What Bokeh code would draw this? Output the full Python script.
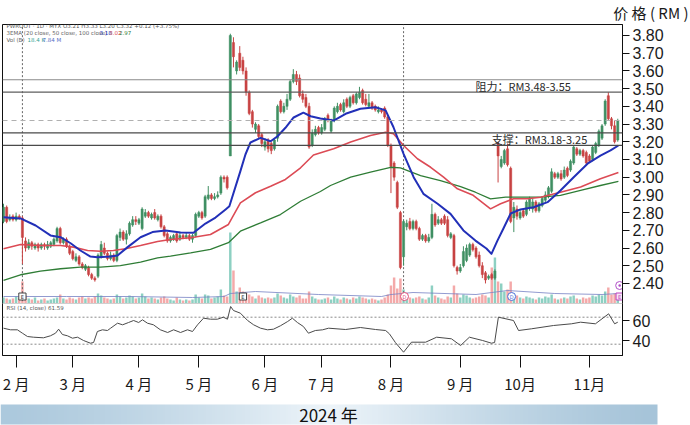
import numpy as np
from bokeh.plotting import figure
from bokeh.models import Range1d, LinearAxis, FixedTicker, Label, ColumnDataSource, Span, Title
from bokeh.layouts import column
from bokeh.core.properties import value
from bokeh.embed import file_html
from bokeh.resources import INLINE

# ---------------- data ----------------
month_idx = [4, 22, 43, 62, 83, 101, 123, 145, 164, 186]
month_labels = ["2 月", "3 月", "4 月", "5 月", "6 月", "7 月", "8 月", "9 月", "10月", "11月"]
price_ticks = [2.40, 2.50, 2.60, 2.70, 2.80, 2.90, 3.00, 3.10, 3.20, 3.30, 3.40, 3.50, 3.60, 3.70, 3.80]
price_labels = ["2.40", "2.50", "2.60", "2.70", "2.80", "2.90", "3.00", "3.10", "3.20", "3.30",
                "3.40", "3.50", "3.60", "3.70", "3.80"]
rsi_ticks = [60, 40]
rsi_labels = ["60", "40"]
resistance = [3.48, 3.55]
support = [3.18, 3.25]
last_price = 3.32

opens = [2.75, 2.83, 2.76, 2.78, 2.76, 2.78, 2.77, 2.64, 2.60, 2.63, 2.60, 2.62, 2.60, 2.62, 2.60, 2.61, 2.62, 2.64, 2.71, 2.63,
         2.65, 2.61, 2.58, 2.53, 2.55, 2.51, 2.48, 2.49, 2.45, 2.43, 2.44, 2.55, 2.60, 2.57, 2.54, 2.56, 2.53, 2.66, 2.69, 2.65,
         2.68, 2.73, 2.76, 2.74, 2.71, 2.78, 2.80, 2.77, 2.80, 2.76, 2.78, 2.72, 2.68, 2.64, 2.65, 2.68, 2.65, 2.67, 2.66, 2.67,
         2.65, 2.67, 2.78, 2.80, 2.78, 2.88, 2.90, 2.88, 2.89, 2.91, 3.00, 3.00, 3.12, 3.76, 3.60, 3.70, 3.66, 3.60, 3.48, 3.37,
         3.27, 3.29, 3.24, 3.17, 3.21, 3.19, 3.16, 3.22, 3.43, 3.37, 3.40, 3.44, 3.54, 3.58, 3.56, 3.47, 3.45, 3.40, 3.18, 3.24,
         3.28, 3.25, 3.27, 3.35, 3.26, 3.32, 3.37, 3.41, 3.37, 3.44, 3.40, 3.46, 3.42, 3.45, 3.49, 3.44, 3.40, 3.42, 3.40, 3.37,
         3.38, 3.39, 3.34, 3.18, 3.08, 2.97, 2.80, 2.55, 2.72, 2.75, 2.71, 2.75, 2.71, 2.65, 2.67, 2.64, 2.66, 2.79, 2.74, 2.76,
         2.78, 2.76, 2.66, 2.67, 2.49, 2.47, 2.50, 2.53, 2.56, 2.62, 2.60, 2.56, 2.50, 2.46, 2.43, 2.45, 2.43, 3.19, 3.06, 3.08,
         3.16, 3.05, 2.77, 2.82, 2.77, 2.81, 2.79, 2.83, 2.82, 2.86, 2.81, 2.84, 2.87, 2.89, 2.92, 3.02, 3.00, 3.02, 3.00, 3.05,
         3.04, 3.08, 3.16, 3.13, 3.15, 3.14, 3.12, 3.10, 3.14, 3.18, 3.22, 3.30, 3.46, 3.33, 3.29, 3.21]
highs = [2.85, 2.84, 2.79, 2.79, 2.80, 2.79, 2.78, 2.66, 2.65, 2.64, 2.63, 2.63, 2.63, 2.63, 2.64, 2.64, 2.66, 2.72, 2.72, 2.66,
         2.66, 2.62, 2.59, 2.57, 2.56, 2.52, 2.51, 2.50, 2.46, 2.44, 2.57, 2.64, 2.63, 2.58, 2.58, 2.57, 2.68, 2.71, 2.70, 2.70,
         2.75, 2.78, 2.78, 2.77, 2.83, 2.82, 2.81, 2.80, 2.82, 2.79, 2.79, 2.73, 2.69, 2.67, 2.68, 2.69, 2.69, 2.68, 2.69, 2.68,
         2.68, 2.80, 2.81, 2.81, 2.90, 2.95, 2.91, 2.91, 2.92, 3.01, 3.01, 3.01, 3.81, 3.79, 3.66, 3.74, 3.68, 3.62, 3.49, 3.38,
         3.31, 3.30, 3.25, 3.22, 3.22, 3.20, 3.22, 3.41, 3.44, 3.42, 3.47, 3.55, 3.61, 3.60, 3.58, 3.49, 3.47, 3.42, 3.27, 3.29,
         3.29, 3.30, 3.34, 3.36, 3.33, 3.40, 3.42, 3.42, 3.44, 3.45, 3.46, 3.47, 3.48, 3.51, 3.50, 3.47, 3.47, 3.43, 3.41, 3.40,
         3.39, 3.40, 3.35, 3.19, 3.09, 2.98, 2.81, 2.76, 2.76, 2.77, 2.76, 2.76, 2.72, 2.68, 2.68, 2.68, 2.85, 2.80, 2.78, 2.77,
         2.79, 2.78, 2.69, 2.68, 2.50, 2.51, 2.61, 2.62, 2.63, 2.63, 2.61, 2.58, 2.52, 2.47, 2.45, 2.46, 2.48, 3.20, 3.12, 3.16,
         3.19, 3.06, 2.86, 2.84, 2.82, 2.82, 2.87, 2.89, 2.88, 2.87, 2.86, 2.89, 2.92, 2.95, 3.05, 3.03, 3.03, 3.04, 3.06, 3.06,
         3.10, 3.18, 3.17, 3.16, 3.16, 3.15, 3.13, 3.18, 3.20, 3.27, 3.30, 3.44, 3.48, 3.34, 3.32, 3.33]
lows = [2.74, 2.74, 2.75, 2.75, 2.75, 2.76, 2.51, 2.58, 2.59, 2.59, 2.59, 2.58, 2.59, 2.59, 2.59, 2.60, 2.61, 2.63, 2.62, 2.62,
        2.60, 2.56, 2.53, 2.52, 2.50, 2.48, 2.47, 2.44, 2.42, 2.41, 2.43, 2.54, 2.56, 2.53, 2.53, 2.52, 2.52, 2.64, 2.64, 2.62,
        2.67, 2.72, 2.73, 2.73, 2.70, 2.77, 2.77, 2.76, 2.76, 2.75, 2.71, 2.66, 2.63, 2.63, 2.64, 2.63, 2.64, 2.65, 2.65, 2.64,
        2.63, 2.66, 2.77, 2.76, 2.77, 2.87, 2.87, 2.87, 2.88, 2.90, 2.97, 2.93, 3.12, 3.62, 3.58, 3.60, 3.58, 3.46, 3.35, 3.28,
        3.25, 3.22, 3.17, 3.15, 3.14, 3.13, 3.15, 3.20, 3.36, 3.36, 3.38, 3.43, 3.53, 3.52, 3.45, 3.42, 3.39, 3.16, 3.17, 3.23,
        3.24, 3.24, 3.26, 3.31, 3.25, 3.31, 3.36, 3.37, 3.36, 3.39, 3.39, 3.41, 3.41, 3.44, 3.41, 3.40, 3.39, 3.38, 3.37, 3.36,
        3.36, 3.33, 3.17, 2.91, 2.98, 2.82, 2.48, 2.50, 2.70, 2.70, 2.70, 2.70, 2.64, 2.64, 2.63, 2.63, 2.65, 2.72, 2.73, 2.73,
        2.73, 2.66, 2.65, 2.49, 2.45, 2.46, 2.49, 2.52, 2.55, 2.58, 2.54, 2.49, 2.43, 2.40, 2.42, 2.42, 2.42, 2.97, 3.05, 3.07,
        3.06, 2.74, 2.69, 2.76, 2.76, 2.77, 2.78, 2.81, 2.80, 2.80, 2.80, 2.83, 2.86, 2.88, 2.91, 2.99, 2.99, 2.98, 2.99, 3.00,
        3.03, 3.07, 3.12, 3.12, 3.11, 3.07, 3.08, 3.09, 3.13, 3.17, 3.21, 3.29, 3.32, 3.27, 3.19, 3.20]
closes = [2.83, 2.75, 2.77, 2.76, 2.78, 2.77, 2.66, 2.60, 2.63, 2.61, 2.62, 2.60, 2.62, 2.61, 2.62, 2.63, 2.65, 2.71, 2.63, 2.65,
          2.61, 2.57, 2.54, 2.55, 2.51, 2.49, 2.50, 2.45, 2.43, 2.42, 2.56, 2.62, 2.57, 2.54, 2.56, 2.53, 2.67, 2.69, 2.65, 2.68,
          2.74, 2.76, 2.75, 2.76, 2.82, 2.80, 2.78, 2.79, 2.77, 2.78, 2.72, 2.67, 2.64, 2.66, 2.67, 2.64, 2.67, 2.66, 2.67, 2.65,
          2.67, 2.79, 2.80, 2.77, 2.89, 2.90, 2.88, 2.89, 2.90, 3.00, 2.99, 2.94, 3.80, 3.68, 3.65, 3.62, 3.60, 3.48, 3.36, 3.30,
          3.30, 3.23, 3.19, 3.20, 3.16, 3.15, 3.21, 3.40, 3.37, 3.40, 3.44, 3.54, 3.58, 3.54, 3.46, 3.44, 3.40, 3.17, 3.25, 3.27,
          3.25, 3.28, 3.33, 3.32, 3.32, 3.39, 3.40, 3.38, 3.42, 3.40, 3.45, 3.42, 3.47, 3.48, 3.42, 3.41, 3.42, 3.39, 3.38, 3.38,
          3.37, 3.34, 3.18, 3.06, 3.00, 2.83, 2.49, 2.75, 2.74, 2.71, 2.75, 2.71, 2.65, 2.67, 2.64, 2.66, 2.79, 2.73, 2.76, 2.74,
          2.74, 2.67, 2.68, 2.50, 2.47, 2.49, 2.58, 2.60, 2.62, 2.59, 2.55, 2.50, 2.45, 2.42, 2.44, 2.43, 2.47, 3.12, 3.10, 3.15,
          3.07, 2.75, 2.83, 2.78, 2.80, 2.78, 2.86, 2.88, 2.86, 2.81, 2.85, 2.88, 2.90, 2.94, 3.03, 3.00, 3.02, 2.99, 3.04, 3.01,
          3.09, 3.17, 3.13, 3.15, 3.12, 3.08, 3.09, 3.17, 3.19, 3.26, 3.29, 3.43, 3.33, 3.29, 3.20, 3.32]
volumes = [6, 5, 4, 5, 7, 6, 22,
           8, 5, 4, 6, 3, 4, 5, 3, 4, 5, 6, 9, 5, 4, 6,
           5, 4, 6, 7, 5, 6, 5, 7, 10, 8, 6, 5, 4, 5,
           9, 7, 5, 6, 8, 7, 5, 6, 10, 7, 5, 6, 5, 4,
           6, 7, 5, 4, 3, 6, 4, 3, 4, 3, 4, 9,
           6, 5, 9, 8, 5, 6, 7, 14, 8, 7,
           71, 33, 12, 16, 12,
           11, 9, 7, 5, 8, 6,
           5, 6, 5, 6, 10, 8, 6, 5, 9, 7, 6, 8, 5, 5, 12, 7, 5, 4,
           4, 5, 6, 4, 7, 5, 4, 6, 5, 4, 6, 5, 7, 6, 5, 4, 5, 4, 3, 4, 6, 9,
           18, 26, 15, 25,
           14, 8, 6, 5, 6, 7, 5, 4, 6,
           18,
           8, 6, 5, 4, 7, 6,
           18, 10,
           6, 9, 8, 6, 5, 6, 7, 9, 8, 6,
           36, 46, 22,
           20, 12, 14, 22, 10, 8,
           6, 5, 7, 6, 5, 4, 6, 5, 7, 6, 9, 5, 4, 5, 6, 5, 7, 8, 5, 4, 6, 5,
           6, 8, 7, 9, 8, 12, 16, 9, 10, 8]

ema20_x = [0, 5.4, 10.2, 14.9, 18.1, 21.3, 24.4, 27.6, 29.8, 34, 36.2, 39.4, 43.5, 47.3, 51.4, 56.2, 60.3, 64.1, 67.3, 70.5,
           71.7, 75.2, 76.8, 78.4, 81.6, 84.8, 87, 89.5, 92.1, 95.2, 97.5, 100.6, 104.8, 108.6, 113.3, 118.1, 121.3, 123.8,
           127, 130.2, 133.3, 137.8, 141.9, 146, 149.8, 153.3, 154.9, 156.8, 158.7, 161, 164.1, 168.3, 172.7, 176.8, 181,
           185.4, 189.5, 192.7, 195.2]
ema20_v = [2.774, 2.767, 2.727, 2.671, 2.661, 2.627, 2.586, 2.552, 2.548, 2.552, 2.558, 2.605, 2.661, 2.69, 2.699, 2.688,
           2.686, 2.738, 2.772, 2.818, 2.836, 3.034, 3.128, 3.196, 3.222, 3.203, 3.231, 3.279, 3.337, 3.364, 3.344, 3.331,
           3.320, 3.358, 3.386, 3.395, 3.377, 3.282, 3.132, 3.000, 2.906, 2.850, 2.793, 2.699, 2.642, 2.597, 2.567, 2.642,
           2.710, 2.795, 2.818, 2.830, 2.859, 2.925, 3.000, 3.076, 3.122, 3.151, 3.179]
ema50_x = [0, 5.4, 11.7, 18.1, 22.2, 26.7, 30.8, 34.9, 38.7, 43.5, 48.9, 53, 59.4, 65.7, 71.4, 75.2, 80, 84.8, 89.5, 94.3,
           98.4, 104.8, 110.2, 116.5, 121.3, 123.8, 127, 131.4, 135.6, 139.7, 144.1, 148.9, 154.6, 157.8, 161.9, 166.3,
           170.5, 176.8, 183.2, 189.5, 195.2]
ema50_v = [2.596, 2.620, 2.614, 2.614, 2.605, 2.586, 2.582, 2.586, 2.596, 2.614, 2.637, 2.648, 2.658, 2.676, 2.733, 2.855,
           2.912, 2.949, 2.987, 3.053, 3.125, 3.160, 3.198, 3.235, 3.254, 3.245, 3.179, 3.104, 3.056, 3.000, 2.934, 2.900,
           2.821, 2.850, 2.878, 2.878, 2.887, 2.915, 2.945, 2.991, 3.026]
ema100_x = [0, 5.4, 11.7, 18.1, 24.4, 30.8, 37.1, 43.5, 48.9, 53, 59.4, 65.7, 71.4, 75.2, 81.6, 87.9, 94.3, 100.6, 103.8,
            110.2, 116.5, 122.9, 126, 132.4, 138.7, 145.1, 149.8, 154.6, 159.4, 170.5, 176.8, 183.2, 189.5, 195.2]
ema100_v = [2.417, 2.449, 2.469, 2.483, 2.492, 2.492, 2.501, 2.520, 2.544, 2.554, 2.573, 2.592, 2.630, 2.695, 2.742, 2.789,
            2.864, 2.919, 2.953, 3.000, 3.028, 3.056, 3.052, 3.009, 2.981, 2.947, 2.915, 2.878, 2.887, 2.887, 2.897, 2.925,
            2.953, 2.976]
rsi_x = [0, 2.2, 4.4, 6, 7.6, 9.5, 12.7, 14.9, 16.5, 17.5, 18.7, 20.3, 21.9, 23.5, 25.4, 27.6, 28.6, 29.8, 31.4, 33,
         34, 36.2, 37.8, 39.7, 41.3, 42.9, 44.1, 45.7, 47.6, 49.8, 52.1, 54, 56.2, 58.4, 60, 61.6, 63.5, 65.7, 67.9, 69.8,
         71.1, 72.1, 73, 75.2, 77.5, 79.4, 81.6, 83.8, 85.7, 87.9, 90.2, 91.7, 93.3, 95.2, 96.8, 99, 101.3, 103.2, 108.6,
         113.3, 118.1, 121.3, 122.5, 124.4, 127, 129.5, 134, 137.5, 142.2, 145.1, 147.9, 152.1, 154.9, 155.9, 157.1, 161.9,
         163.5, 167.6, 174.6, 180.3, 183.2, 187.9, 192.1, 194, 195]
rsi_v = [52.3, 50.7, 50.7, 47.3, 44, 43.3, 42.7, 44.7, 47.3, 51.3, 46, 44.7, 42.3, 43.3, 40, 37.3, 38, 49, 50.7, 50,
         52.3, 57.3, 55.7, 58, 60, 58, 60.7, 57.3, 55.7, 50.7, 48, 50.7, 48, 50.7, 49, 55.7, 62.3, 61.3, 61.3, 63.3,
         61.3, 74, 70, 67.3, 60, 55.7, 52.3, 50.7, 51.3, 54.7, 59, 62.3, 58, 54, 47.3, 50, 50.7, 52.3, 51,
         53, 51, 50, 46.7, 38, 28.3, 38.3, 38.3, 43.3, 41.7, 35, 43.3, 40, 37.3, 38, 63.3, 60,
         50, 51.7, 55, 56.7, 58.3, 56.7, 66.7, 56.7, 58.3]
rsi_bands = [63.3, 36.3]
vma_x = [0, 20, 40, 60, 70, 72, 80, 100, 120, 123, 130, 150, 155, 160, 175, 190, 195]
vma_v = [7, 7, 7, 6, 7, 10, 12, 9, 7, 9, 11, 9, 11, 13, 10, 9, 10]

assert len(opens) == len(highs) == len(lows) == len(closes) == len(volumes) == 196

# ---------------- style ----------------
UP, DN = "#3f8f62", "#c84343"
VUP, VDN = "#8dd0c2", "#f4a9a9"
CJK = "Noto Sans CJK SC"

X0, X1 = -0.32, 196.5
Y0, Y1 = 1.9931, 3.8621
RSI0, RSI1 = 25.0, 356.0
VOL0, VOL1 = -52.0, 279.0

p = figure(width=690, height=403, x_range=Range1d(X0, X1), y_range=Range1d(Y0, Y1),
           output_backend="svg", toolbar_location=None,
           min_border_left=2, min_border_right=68, min_border_top=24, min_border_bottom=48,
           x_axis_location=None, y_axis_location=None)
p.extra_y_ranges = {"vol": Range1d(VOL0, VOL1), "rsi": Range1d(RSI0, RSI1)}
p.grid.visible = False
p.outline_line_color = "#111111"
p.outline_line_width = 1
p.background_fill_color = "white"
p.border_fill_color = "white"

title = Title(text="价 格 ( RM )", align="right", offset=-66, standoff=0, vertical_align="top",
              text_font=CJK, text_font_size="15px", text_font_style="normal", text_color="#1a1a1a")
p.add_layout(title, "above")

def rsi_pos(r):
    return Y0 + (r - RSI0) / (RSI1 - RSI0) * (Y1 - Y0)

# axes
tick_vals = list(price_ticks) + [rsi_pos(r) for r in rsi_ticks]
overrides = {v: l for v, l in zip(price_ticks, price_labels)}
for r, l in zip(rsi_ticks, rsi_labels):
    overrides[rsi_pos(r)] = l
ya = LinearAxis(ticker=FixedTicker(ticks=tick_vals), major_label_overrides=overrides)
ya.major_label_text_font = "Liberation Sans"
ya.major_label_text_font_size = "16px"
ya.major_label_text_color = "#1a1a1a"
ya.major_tick_out = 7
ya.major_tick_in = 0
ya.minor_tick_out = 0
ya.minor_tick_in = 0
ya.major_label_standoff = 3
ya.axis_line_color = "#111111"
ya.major_tick_line_color = "#111111"
p.add_layout(ya, "right")

xa = LinearAxis(ticker=FixedTicker(ticks=month_idx),
                major_label_overrides={i: l for i, l in zip(month_idx, month_labels)})
xa.major_label_text_font = CJK
xa.major_label_text_font_size = "15px"
xa.major_label_text_color = "#1a1a1a"
xa.major_tick_out = 12
xa.major_tick_in = 0
xa.minor_tick_out = 0
xa.minor_tick_in = 0
xa.major_label_standoff = 5
xa.axis_line_color = "#111111"
xa.major_tick_line_color = "#111111"
p.add_layout(xa, "below")

# candle source
idx = list(range(len(closes)))
is_up = [c >= o for o, c in zip(opens, closes)]
src = ColumnDataSource(dict(
    x=idx, h=highs, l=lows,
    top=[max(o, c) for o, c in zip(opens, closes)],
    bot=[min(o, c) for o, c in zip(opens, closes)],
    col=[UP if u else DN for u in is_up],
    vcol=[VUP if u else VDN for u in is_up],
    vol=volumes))

# volume
p.vbar(x="x", width=0.78, top="vol", bottom=0, y_range_name="vol", source=src,
       fill_color="vcol", line_color=None)
p.line(vma_x, vma_v, y_range_name="vol", line_color="#7682c4", line_width=0.8)

# separators / reference lines
p.add_layout(Span(location=rsi_pos(RSI0 + 52), dimension="width", line_color="#cfcfcf", line_width=1))
p.add_layout(Span(location=resistance[1], dimension="width", line_color="#8a8a8a", line_width=1.2))
p.add_layout(Span(location=resistance[0], dimension="width", line_color="#5e5e5e", line_width=1.3))
for lv in support:
    p.add_layout(Span(location=lv, dimension="width", line_color="#4a4a4a", line_width=1.3))
p.add_layout(Span(location=last_price, dimension="width", line_color="#b0b0b0", line_width=1, line_dash="5 4"))
p.segment(x0=[6, 127], y0=[2.30, 2.30], x1=[6, 127], y1=[Y1, Y1], line_color="#666666",
          line_width=1, line_dash="2 2")

# RSI panel
p.segment(x0=[X0, X0], y0=rsi_bands, x1=[X1, X1], y1=rsi_bands, y_range_name="rsi",
          line_color="#8a8a8a", line_width=1, line_dash="2 2")
p.line(rsi_x, rsi_v, y_range_name="rsi", line_color="#4a4a4a", line_width=1)

# candles
p.segment(x0="x", y0="l", x1="x", y1="h", line_color="col", line_width=1, source=src)
p.vbar(x="x", width=0.68, top="top", bottom="bot", fill_color="col", line_color="col",
       line_width=0.5, source=src)

# EMAs
p.line(ema100_x, ema100_v, line_color="#2f7d36", line_width=1.3)
p.line(ema50_x, ema50_v, line_color="#dc4b55", line_width=1.6)
p.line(ema20_x, ema20_v, line_color="#2230b8", line_width=2.0, line_join="round")

# event markers in the volume strip
p.rect(x=[6, 76], y=[7, 7], width=2.3, height=7, y_range_name="vol",
       fill_color="white", line_color="#444444", line_width=1)
p.rect(x=[195.6], y=[7], width=2.3, height=7, y_range_name="vol",
       fill_color="#f6e6f6", line_color="#c043c0", line_width=1)
p.scatter(x=[127.3, 161.3, 195.6], y=[7, 7, 18], y_range_name="vol", marker="circle", size=8,
          fill_color="white", line_color=["#e0507a", "#4a6fd6", "#b050c8"], line_width=1)
p.scatter(x=[195.6], y=[18], y_range_name="vol", marker="circle", size=2.5,
          fill_color="#b050c8", line_color=None)
p.text(x=[6, 76, 195.6, 127.3, 161.3], y=[7, 7, 7, 7, 7], text=["E", "E", "E", "D", "D"],
       y_range_name="vol", text_align="center", text_baseline="middle",
       text_font=value("DejaVu Sans"), text_font_size="5px",
       text_color=["#333333", "#333333", "#c043c0", "#e0507a", "#4a6fd6"])

# annotations
def lab(x, y, text, size, color, align="left", font="DejaVu Sans"):
    p.add_layout(Label(x=x, y=y, text=text, text_font=font, text_font_size=size,
                       text_color=color, text_align=align, text_baseline="middle"))

lab(149.8, (resistance[0] + resistance[1]) / 2, "阻力：RM3.48-3.55", "11px", "#2a2a2a", font=CJK)
lab(155.0, (support[0] + support[1]) / 2 - 0.002, "支撑：RM3.18-3.25", "11px", "#2a2a2a", font=CJK)

lab(0.95, 3.855, "PWROOT · 1D · MYX   O3.21  H3.33  L3.20  C3.32  +0.12 (+3.75%)", "5.5px", "#555555")
lab(0.95, 3.816, "3EMA (20 close, 50 close, 100 close)", "5.5px", "#666666")
lab(30.5, 3.816, "3.18", "5.5px", "#2230b8")
lab(33.6, 3.816, "3.02", "5.5px", "#dc4b55")
lab(36.7, 3.816, "2.97", "5.5px", "#2f7d36")
lab(0.95, 3.777, "Vol (B)", "5.5px", "#666666")
lab(7.6, 3.777, "18.4 K", "5.5px", "#3aa596")
lab(12.4, 3.777, "7.84 M", "5.5px", "#5470c6")
lab(0.95, 2.264, "RSI (14, close)  61.59", "5.5px", "#555555")

# ---------------- bottom band ----------------
b = figure(frame_width=690, frame_height=22, x_range=Range1d(0, 690), y_range=Range1d(0, 22),
           output_backend="svg", toolbar_location=None,
           min_border_left=0, min_border_right=0, min_border_top=0, min_border_bottom=0,
           x_axis_location=None, y_axis_location=None)
for fig in (p, b):
    try:
        fig.frame_align = False
    except Exception:
        pass
b.grid.visible = False
b.outline_line_color = None
N = 240
t = np.linspace(0, 1, N)
w = 1 - np.abs(t - 0.5) * 2
left = np.array([172, 201, 221])
right = np.array([166, 196, 217])
mid = np.array([238, 245, 250])
edge = left[None, :] * (1 - t[:, None]) + right[None, :] * t[:, None]
cols = edge * (1 - w[:, None] ** 1.3) + mid[None, :] * (w[:, None] ** 1.3)
img = np.empty((1, N), dtype=np.uint32)
view = img.view(dtype=np.uint8).reshape((1, N, 4))
view[0, :, 0] = cols[:, 0].astype(np.uint8)
view[0, :, 1] = cols[:, 1].astype(np.uint8)
view[0, :, 2] = cols[:, 2].astype(np.uint8)
view[0, :, 3] = 255
b.image_rgba(image=[img], x=0, y=1, dw=657, dh=20)
b.text(x=[328], y=[11.5], text=["2024 年"], text_align="center", text_baseline="middle",
       text_font=value(CJK), text_font_size="17px", text_color="#111111")

layout = column(p, b, spacing=0)
open("out.html", "w").write(file_html(layout, INLINE, title="chart"))
